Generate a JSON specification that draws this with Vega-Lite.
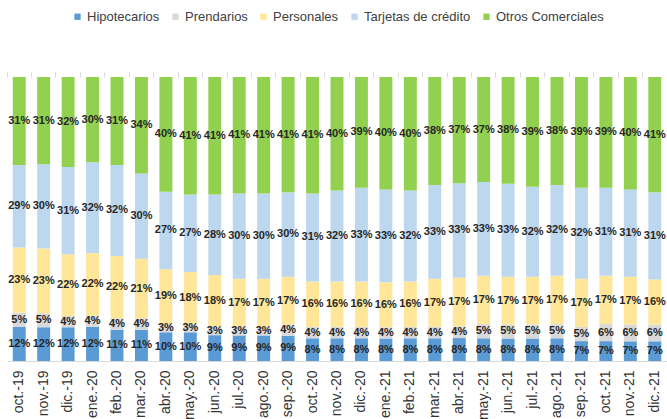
{
  "$schema": "https://vega.github.io/schema/vega-lite/v6.json",
  "width": 660,
  "height": 284,
  "autosize": {"type": "none"},
  "padding": {"left": 7, "top": 77, "right": 0, "bottom": 58},
  "background": "white",
  "config": {"view": {"stroke": null}, "font": "Liberation Sans"},
  "data": {"values": [
    {"m":"oct.-19","s":"Hipotecarios","k":1,"v":0.12},{"m":"oct.-19","s":"Prendarios","k":2,"v":0.05},{"m":"oct.-19","s":"Personales","k":3,"v":0.23},{"m":"oct.-19","s":"Tarjetas de crédito","k":4,"v":0.29},{"m":"oct.-19","s":"Otros Comerciales","k":5,"v":0.31},
    {"m":"nov.-19","s":"Hipotecarios","k":1,"v":0.12},{"m":"nov.-19","s":"Prendarios","k":2,"v":0.05},{"m":"nov.-19","s":"Personales","k":3,"v":0.23},{"m":"nov.-19","s":"Tarjetas de crédito","k":4,"v":0.30},{"m":"nov.-19","s":"Otros Comerciales","k":5,"v":0.31},
    {"m":"dic.-19","s":"Hipotecarios","k":1,"v":0.12},{"m":"dic.-19","s":"Prendarios","k":2,"v":0.04},{"m":"dic.-19","s":"Personales","k":3,"v":0.22},{"m":"dic.-19","s":"Tarjetas de crédito","k":4,"v":0.31},{"m":"dic.-19","s":"Otros Comerciales","k":5,"v":0.32},
    {"m":"ene.-20","s":"Hipotecarios","k":1,"v":0.12},{"m":"ene.-20","s":"Prendarios","k":2,"v":0.04},{"m":"ene.-20","s":"Personales","k":3,"v":0.22},{"m":"ene.-20","s":"Tarjetas de crédito","k":4,"v":0.32},{"m":"ene.-20","s":"Otros Comerciales","k":5,"v":0.30},
    {"m":"feb.-20","s":"Hipotecarios","k":1,"v":0.11},{"m":"feb.-20","s":"Prendarios","k":2,"v":0.04},{"m":"feb.-20","s":"Personales","k":3,"v":0.22},{"m":"feb.-20","s":"Tarjetas de crédito","k":4,"v":0.32},{"m":"feb.-20","s":"Otros Comerciales","k":5,"v":0.31},
    {"m":"mar.-20","s":"Hipotecarios","k":1,"v":0.11},{"m":"mar.-20","s":"Prendarios","k":2,"v":0.04},{"m":"mar.-20","s":"Personales","k":3,"v":0.21},{"m":"mar.-20","s":"Tarjetas de crédito","k":4,"v":0.30},{"m":"mar.-20","s":"Otros Comerciales","k":5,"v":0.34},
    {"m":"abr.-20","s":"Hipotecarios","k":1,"v":0.10},{"m":"abr.-20","s":"Prendarios","k":2,"v":0.03},{"m":"abr.-20","s":"Personales","k":3,"v":0.19},{"m":"abr.-20","s":"Tarjetas de crédito","k":4,"v":0.27},{"m":"abr.-20","s":"Otros Comerciales","k":5,"v":0.40},
    {"m":"may.-20","s":"Hipotecarios","k":1,"v":0.10},{"m":"may.-20","s":"Prendarios","k":2,"v":0.03},{"m":"may.-20","s":"Personales","k":3,"v":0.18},{"m":"may.-20","s":"Tarjetas de crédito","k":4,"v":0.27},{"m":"may.-20","s":"Otros Comerciales","k":5,"v":0.41},
    {"m":"jun.-20","s":"Hipotecarios","k":1,"v":0.09},{"m":"jun.-20","s":"Prendarios","k":2,"v":0.03},{"m":"jun.-20","s":"Personales","k":3,"v":0.18},{"m":"jun.-20","s":"Tarjetas de crédito","k":4,"v":0.28},{"m":"jun.-20","s":"Otros Comerciales","k":5,"v":0.41},
    {"m":"jul.-20","s":"Hipotecarios","k":1,"v":0.09},{"m":"jul.-20","s":"Prendarios","k":2,"v":0.03},{"m":"jul.-20","s":"Personales","k":3,"v":0.17},{"m":"jul.-20","s":"Tarjetas de crédito","k":4,"v":0.30},{"m":"jul.-20","s":"Otros Comerciales","k":5,"v":0.41},
    {"m":"ago.-20","s":"Hipotecarios","k":1,"v":0.09},{"m":"ago.-20","s":"Prendarios","k":2,"v":0.03},{"m":"ago.-20","s":"Personales","k":3,"v":0.17},{"m":"ago.-20","s":"Tarjetas de crédito","k":4,"v":0.30},{"m":"ago.-20","s":"Otros Comerciales","k":5,"v":0.41},
    {"m":"sep.-20","s":"Hipotecarios","k":1,"v":0.09},{"m":"sep.-20","s":"Prendarios","k":2,"v":0.04},{"m":"sep.-20","s":"Personales","k":3,"v":0.17},{"m":"sep.-20","s":"Tarjetas de crédito","k":4,"v":0.30},{"m":"sep.-20","s":"Otros Comerciales","k":5,"v":0.41},
    {"m":"oct.-20","s":"Hipotecarios","k":1,"v":0.08},{"m":"oct.-20","s":"Prendarios","k":2,"v":0.04},{"m":"oct.-20","s":"Personales","k":3,"v":0.16},{"m":"oct.-20","s":"Tarjetas de crédito","k":4,"v":0.31},{"m":"oct.-20","s":"Otros Comerciales","k":5,"v":0.41},
    {"m":"nov.-20","s":"Hipotecarios","k":1,"v":0.08},{"m":"nov.-20","s":"Prendarios","k":2,"v":0.04},{"m":"nov.-20","s":"Personales","k":3,"v":0.16},{"m":"nov.-20","s":"Tarjetas de crédito","k":4,"v":0.32},{"m":"nov.-20","s":"Otros Comerciales","k":5,"v":0.40},
    {"m":"dic.-20","s":"Hipotecarios","k":1,"v":0.08},{"m":"dic.-20","s":"Prendarios","k":2,"v":0.04},{"m":"dic.-20","s":"Personales","k":3,"v":0.16},{"m":"dic.-20","s":"Tarjetas de crédito","k":4,"v":0.33},{"m":"dic.-20","s":"Otros Comerciales","k":5,"v":0.39},
    {"m":"ene.-21","s":"Hipotecarios","k":1,"v":0.08},{"m":"ene.-21","s":"Prendarios","k":2,"v":0.04},{"m":"ene.-21","s":"Personales","k":3,"v":0.16},{"m":"ene.-21","s":"Tarjetas de crédito","k":4,"v":0.33},{"m":"ene.-21","s":"Otros Comerciales","k":5,"v":0.40},
    {"m":"feb.-21","s":"Hipotecarios","k":1,"v":0.08},{"m":"feb.-21","s":"Prendarios","k":2,"v":0.04},{"m":"feb.-21","s":"Personales","k":3,"v":0.16},{"m":"feb.-21","s":"Tarjetas de crédito","k":4,"v":0.32},{"m":"feb.-21","s":"Otros Comerciales","k":5,"v":0.40},
    {"m":"mar.-21","s":"Hipotecarios","k":1,"v":0.08},{"m":"mar.-21","s":"Prendarios","k":2,"v":0.04},{"m":"mar.-21","s":"Personales","k":3,"v":0.17},{"m":"mar.-21","s":"Tarjetas de crédito","k":4,"v":0.33},{"m":"mar.-21","s":"Otros Comerciales","k":5,"v":0.38},
    {"m":"abr.-21","s":"Hipotecarios","k":1,"v":0.08},{"m":"abr.-21","s":"Prendarios","k":2,"v":0.04},{"m":"abr.-21","s":"Personales","k":3,"v":0.17},{"m":"abr.-21","s":"Tarjetas de crédito","k":4,"v":0.33},{"m":"abr.-21","s":"Otros Comerciales","k":5,"v":0.37},
    {"m":"may.-21","s":"Hipotecarios","k":1,"v":0.08},{"m":"may.-21","s":"Prendarios","k":2,"v":0.05},{"m":"may.-21","s":"Personales","k":3,"v":0.17},{"m":"may.-21","s":"Tarjetas de crédito","k":4,"v":0.33},{"m":"may.-21","s":"Otros Comerciales","k":5,"v":0.37},
    {"m":"jun.-21","s":"Hipotecarios","k":1,"v":0.08},{"m":"jun.-21","s":"Prendarios","k":2,"v":0.05},{"m":"jun.-21","s":"Personales","k":3,"v":0.17},{"m":"jun.-21","s":"Tarjetas de crédito","k":4,"v":0.33},{"m":"jun.-21","s":"Otros Comerciales","k":5,"v":0.38},
    {"m":"jul.-21","s":"Hipotecarios","k":1,"v":0.08},{"m":"jul.-21","s":"Prendarios","k":2,"v":0.05},{"m":"jul.-21","s":"Personales","k":3,"v":0.17},{"m":"jul.-21","s":"Tarjetas de crédito","k":4,"v":0.32},{"m":"jul.-21","s":"Otros Comerciales","k":5,"v":0.39},
    {"m":"ago.-21","s":"Hipotecarios","k":1,"v":0.08},{"m":"ago.-21","s":"Prendarios","k":2,"v":0.05},{"m":"ago.-21","s":"Personales","k":3,"v":0.17},{"m":"ago.-21","s":"Tarjetas de crédito","k":4,"v":0.32},{"m":"ago.-21","s":"Otros Comerciales","k":5,"v":0.38},
    {"m":"sep.-21","s":"Hipotecarios","k":1,"v":0.07},{"m":"sep.-21","s":"Prendarios","k":2,"v":0.05},{"m":"sep.-21","s":"Personales","k":3,"v":0.17},{"m":"sep.-21","s":"Tarjetas de crédito","k":4,"v":0.32},{"m":"sep.-21","s":"Otros Comerciales","k":5,"v":0.39},
    {"m":"oct.-21","s":"Hipotecarios","k":1,"v":0.07},{"m":"oct.-21","s":"Prendarios","k":2,"v":0.06},{"m":"oct.-21","s":"Personales","k":3,"v":0.17},{"m":"oct.-21","s":"Tarjetas de crédito","k":4,"v":0.31},{"m":"oct.-21","s":"Otros Comerciales","k":5,"v":0.39},
    {"m":"nov.-21","s":"Hipotecarios","k":1,"v":0.07},{"m":"nov.-21","s":"Prendarios","k":2,"v":0.06},{"m":"nov.-21","s":"Personales","k":3,"v":0.17},{"m":"nov.-21","s":"Tarjetas de crédito","k":4,"v":0.31},{"m":"nov.-21","s":"Otros Comerciales","k":5,"v":0.40},
    {"m":"dic.-21","s":"Hipotecarios","k":1,"v":0.07},{"m":"dic.-21","s":"Prendarios","k":2,"v":0.06},{"m":"dic.-21","s":"Personales","k":3,"v":0.16},{"m":"dic.-21","s":"Tarjetas de crédito","k":4,"v":0.31},{"m":"dic.-21","s":"Otros Comerciales","k":5,"v":0.41}
  ]},
  "layer": [
    {
      "mark": {"type": "bar", "width": {"band": 0.53}},
      "encoding": {
        "x": {"field": "m", "type": "ordinal", "sort": null,
              "scale": {"paddingInner": 0, "paddingOuter": 0},
              "axis": {"title": null, "labelAngle": -90, "labelFontSize": 14, "labelColor": "#333333",
                       "labelPadding": 9, "ticks": false, "domain": true, "domainColor": "#D9D9D9", "labelFont": "Liberation Sans"}},
        "y": {"field": "v", "type": "quantitative", "stack": "normalize", "axis": null},
        "order": {"field": "k", "type": "quantitative", "sort": "ascending"},
        "color": {"field": "s", "type": "nominal",
                  "sort": ["Hipotecarios", "Prendarios", "Personales", "Tarjetas de crédito", "Otros Comerciales"],
                  "scale": {"domain": ["Hipotecarios", "Prendarios", "Personales", "Tarjetas de crédito", "Otros Comerciales"],
                            "range": ["#5B9BD5", "#D9D9D9", "#FFE699", "#BDD7EE", "#92D050"]},
                  "legend": {"title": null, "orient": "none", "legendX": 64, "legendY": -67, "direction": "horizontal",
                             "symbolType": "square", "symbolSize": 40, "symbolStrokeWidth": 0, "labelFontSize": 13,
                             "labelColor": "#404040", "labelFont": "Liberation Sans", "labelOffset": 3, "columnPadding": 9, "padding": 0}}
      }
    },
    {
      "mark": {"type": "text", "fontWeight": "bold", "fontSize": 11, "color": "#262626", "font": "Liberation Sans"},
      "encoding": {
        "x": {"field": "m", "type": "ordinal", "sort": null,
              "scale": {"paddingInner": 0, "paddingOuter": 0},
              "axis": {"title": null, "labels": false, "domain": false, "ticks": true, "tickColor": "#D9D9D9",
                       "tickSize": 5, "bandPosition": 1, "tickExtra": true}},
        "y": {"field": "v", "type": "quantitative", "stack": "normalize", "bandPosition": 0.5, "axis": null},
        "order": {"field": "k", "type": "quantitative", "sort": "ascending"},
        "detail": {"field": "s", "type": "nominal"},
        "text": {"field": "v", "type": "quantitative", "format": ".0%"}
      }
    }
  ],
  "resolve": {"axis": {"x": "independent"}}
}
